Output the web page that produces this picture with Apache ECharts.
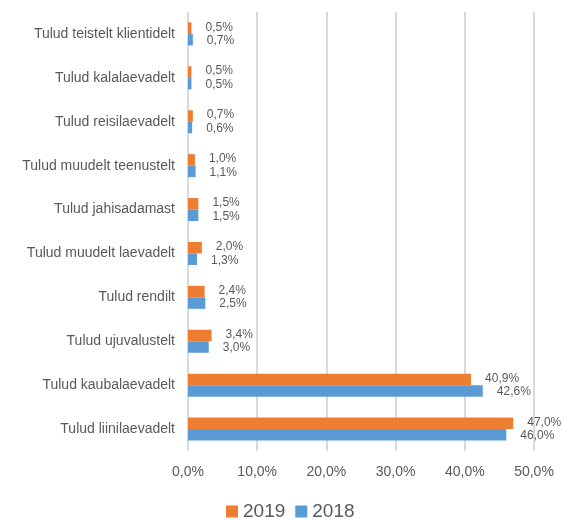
<!DOCTYPE html>
<html><head><meta charset="utf-8">
<script src="https://cdn.jsdelivr.net/npm/echarts@6/dist/echarts.min.js"></script>
<style>html,body{margin:0;padding:0;background:#fff}#c{width:563px;height:519px}</style>
</head><body><div id="c"></div>
<script>
var categories = ["Tulud liinilaevadelt","Tulud kaubalaevadelt","Tulud ujuvalustelt","Tulud rendilt","Tulud muudelt laevadelt","Tulud jahisadamast","Tulud muudelt teenustelt","Tulud reisilaevadelt","Tulud kalalaevadelt","Tulud teistelt klientidelt"];
var values2019 = [47.0,40.9,3.4,2.4,2.0,1.5,1.0,0.7,0.5,0.5];
var values2018 = [46.0,42.6,3.0,2.5,1.3,1.5,1.1,0.6,0.5,0.7];
var xTicks = [0,10,20,30,40,50];

function pct(v){ return v.toFixed(1).replace('.', ',') + '%'; }
var font = 'Liberation Sans, Arial, sans-serif';
var chart = echarts.init(document.getElementById('c'));
chart.setOption({
  animation:false,
  grid:{left:188,right:29,top:12,bottom:68,containLabel:false},
  legend:{data:['2019','2018'],top:497,left:221,itemWidth:12,itemHeight:12,itemGap:10,icon:'rect',
    textStyle:{fontFamily:font,fontSize:19,color:'#595959'}},
  xAxis:{type:'value',min:xTicks[0],max:xTicks[xTicks.length-1],interval:10,
    axisLine:{show:false},axisTick:{show:false},
    axisLabel:{formatter:function(v){return pct(v);},fontFamily:font,fontSize:14,color:'#595959',margin:14},
    splitLine:{lineStyle:{color:'#d9d9d9',width:2}}},
  yAxis:{type:'category',data:categories,
    axisLine:{show:false},axisTick:{show:false},
    axisLabel:{fontFamily:font,fontSize:14,color:'#595959',margin:13}},
  series:[
    {name:'2019',type:'bar',data:values2019,barWidth:11.5,barGap:'0%',itemStyle:{color:'#ED7D31'},
      label:{show:true,position:'right',distance:14,offset:[0,-1],formatter:function(p){return pct(p.value);},fontFamily:font,fontSize:12,color:'#595959'}},
    {name:'2018',type:'bar',data:values2018,barWidth:11.5,barGap:'0%',itemStyle:{color:'#5B9BD5'},
      label:{show:true,position:'right',distance:14,offset:[0,1],formatter:function(p){return pct(p.value);},fontFamily:font,fontSize:12,color:'#595959'}}
  ]
});
</script></body></html>
